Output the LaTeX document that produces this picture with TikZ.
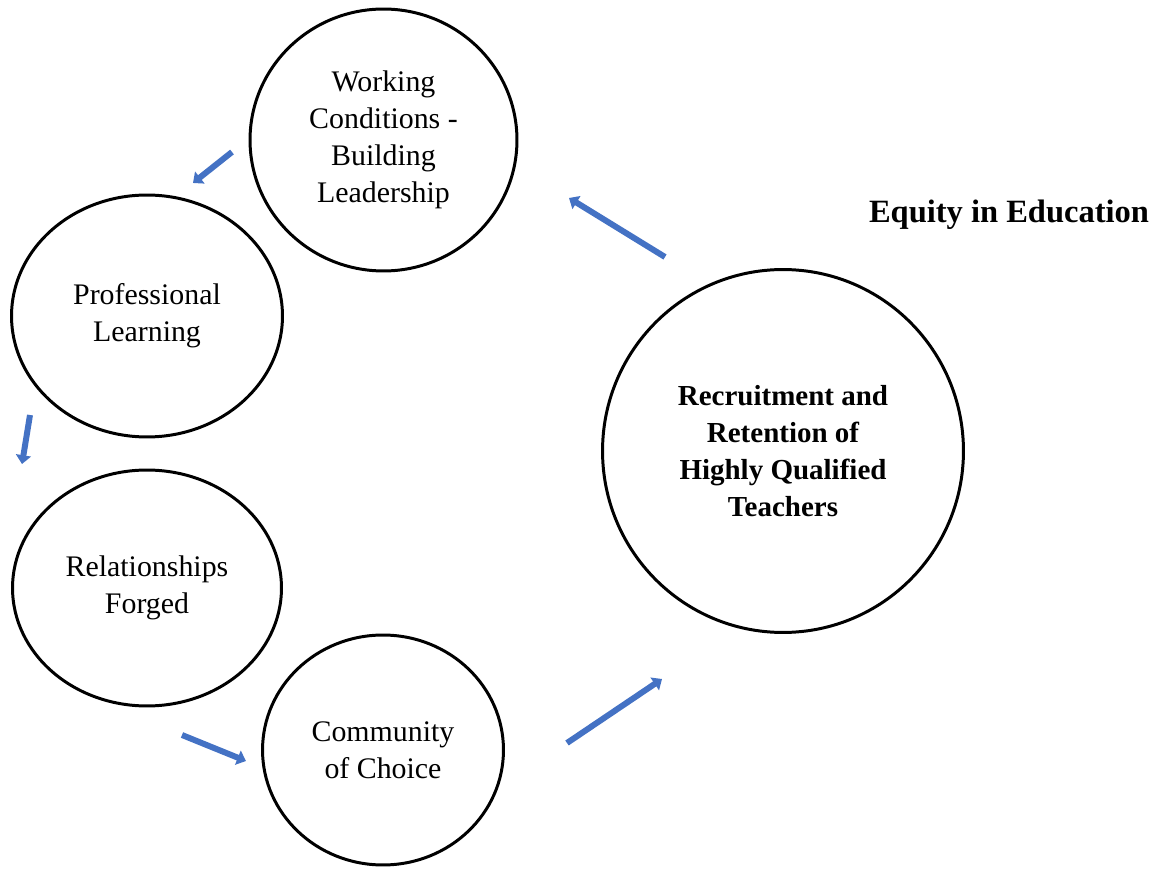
\documentclass[tikz,border=0pt]{standalone}
\usepackage{fontspec}
\setmainfont{Liberation Serif}
\usetikzlibrary{shapes.geometric,arrows.meta}
\definecolor{flowblue}{HTML}{4472C4}
\begin{document}
\begin{tikzpicture}[x=0.02cm,y=-0.02cm,
  stage/.style={draw=black,line width=1.7pt,ellipse,inner sep=0pt,align=center,
    font=\fontsize{17}{21}\selectfont},
  hub/.style={stage,font=\fontsize{16.5}{21}\selectfont\bfseries},
  flow/.style={draw=flowblue,line width=3.4pt,-{Triangle[length=5pt,width=8.5pt]}}]
\useasboundingbox (0,0) rectangle (1160,871);

% cycle stages
\node[stage,minimum width=5.34cm,minimum height=5.24cm] (work) at (383.5,140) {Working\\Conditions -\\Building\\Leadership};
\node[stage,minimum width=5.42cm,minimum height=4.84cm] (prof) at (147,316) {Professional\\Learning};
\node[stage,minimum width=5.38cm,minimum height=4.72cm] (rel) at (147,588) {Relationships\\Forged};
\node[stage,minimum width=4.82cm,minimum height=4.60cm] (comm) at (383,750) {Community\\of Choice};
\node[hub,minimum width=7.22cm,minimum height=7.26cm] (recr) at (783,451) {Recruitment and\\Retention of\\Highly Qualified\\Teachers};

\node[font=\fontsize{18.5}{22}\selectfont\bfseries] (title) at (1009,215) {Equity in Education};

% arrow ends
\coordinate (a1s) at (232,152); \coordinate (a1e) at (193,183);
\coordinate (a2s) at (665,257); \coordinate (a2e) at (569,198);
\coordinate (a3s) at (30,415);  \coordinate (a3e) at (22,464);
\coordinate (a4s) at (182,735); \coordinate (a4e) at (246,761);
\coordinate (a5s) at (567,743); \coordinate (a5e) at (662,679);

\draw[flow] (a1s) -- (a1e);
\draw[flow] (a2s) -- (a2e);
\draw[flow] (a3s) -- (a3e);
\draw[flow] (a4s) -- (a4e);
\draw[flow] (a5s) -- (a5e);
\end{tikzpicture}
\end{document}
